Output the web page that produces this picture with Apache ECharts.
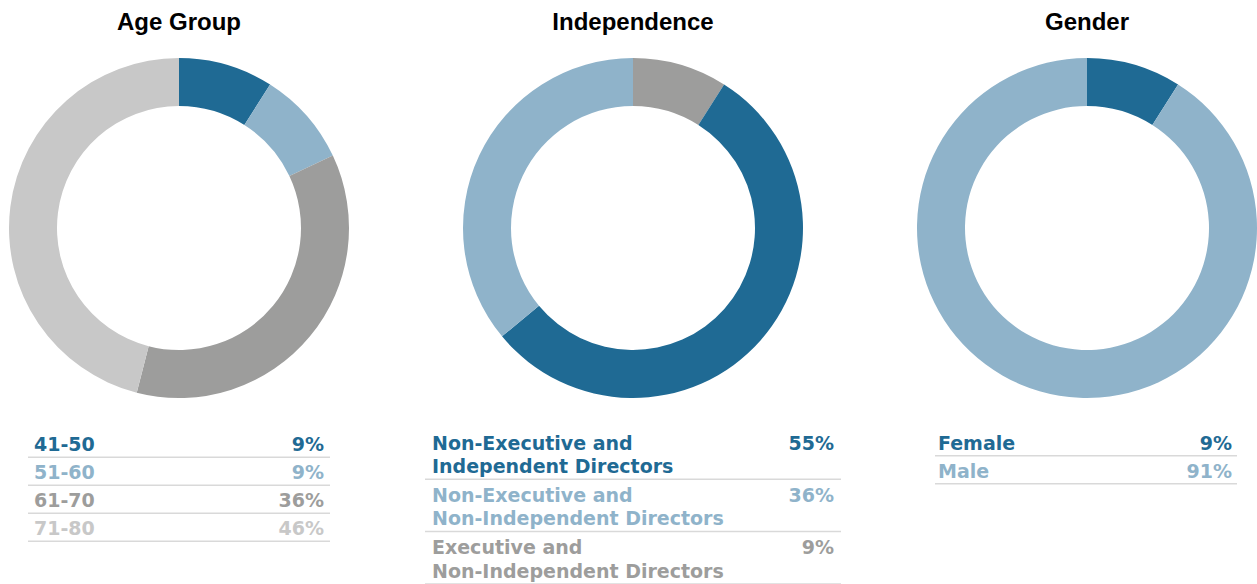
<!DOCTYPE html>
<html>
<head>
<meta charset="utf-8">
<script src="https://cdn.jsdelivr.net/npm/echarts@6/dist/echarts.min.js"></script>
<style>
html,body{margin:0;padding:0;background:#fff;}
#chart{width:1257px;height:584px;}
</style>
</head>
<body>
<div id="chart"></div>
<script>
// ---- data ----
const titles = ['Age Group', 'Independence', 'Gender'];

const ageCategories = ['41-50', '51-60', '61-70', '71-80'];
const ageValues = [9, 9, 36, 46];

// order as drawn clockwise from the top
const indCategories = ['Executive and\nNon-Independent Directors', 'Non-Executive and\nIndependent Directors', 'Non-Executive and\nNon-Independent Directors'];
const indValues = [9, 55, 36];
// order as listed in the table
const indLegendOrder = [1, 2, 0];

const genderCategories = ['Female', 'Male'];
const genderValues = [9, 91];

// ---- styles ----
const C_DARK = '#1f6a94', C_LIGHT = '#8fb3ca', C_GRAY = '#9d9d9c', C_LGRAY = '#c8c8c8';
const ageColors = [C_DARK, C_LIGHT, C_GRAY, C_LGRAY];
const indColors = [C_GRAY, C_DARK, C_LIGHT];
const genderColors = [C_DARK, C_LIGHT];
const FONT = '"Liberation Sans", Arial, sans-serif';
const LFONT = 'bold 19px "DejaVu Sans", sans-serif';

const charts = [
  {cats: ageCategories, vals: ageValues, colors: ageColors, order: [0,1,2,3], cx: 179,
   table: {x0: 28, x1: 330, tx: 34, px: 324, y0: 444, rowH: 28, lineH: 0}},
  {cats: indCategories, vals: indValues, colors: indColors, order: indLegendOrder, cx: 633,
   table: {x0: 425, x1: 841, tx: 432, px: 834, y0: 442.5, rowH: 52.3, lineH: 23.5}},
  {cats: genderCategories, vals: genderValues, colors: genderColors, order: [0,1], cx: 1087,
   table: {x0: 935, x1: 1237, tx: 938, px: 1232, y0: 442.5, rowH: 28, lineH: 0}}
];

const series = [];
const graphics = [];
const titleOpts = [];

charts.forEach((ch, ci) => {
  titleOpts.push({
    text: titles[ci], left: ch.cx, top: 9, textAlign: 'center', padding: 0,
    textStyle: {fontFamily: FONT, fontWeight: 'bold', fontSize: 24, color: '#000'}
  });
  series.push({
    type: 'pie', center: [ch.cx, 228], radius: [122, 170], startAngle: 90, clockwise: true,
    label: {show: false}, labelLine: {show: false}, silent: true, animation: false,
    itemStyle: {borderWidth: 0},
    data: ch.vals.map((v, i) => ({name: ch.cats[i], value: v, itemStyle: {color: ch.colors[i]}}))
  });
  const t = ch.table;
  ch.order.forEach((idx, r) => {
    const yMid = t.y0 + r * t.rowH;
    const lines = ch.cats[idx].split('\n');
    lines.forEach((ln, li) => {
      graphics.push({type: 'text', x: t.tx, y: yMid + li * t.lineH, silent: true,
        style: {text: ln, fill: ch.colors[idx], font: LFONT, textVerticalAlign: 'middle', textAlign: 'left'}});
    });
    graphics.push({type: 'text', x: t.px, y: yMid, silent: true,
      style: {text: ch.vals[idx] + '%', fill: ch.colors[idx], font: LFONT, textVerticalAlign: 'middle', textAlign: 'right'}});
    const sepY = yMid + (lines.length - 1) * t.lineH + 13.3;
    graphics.push({type: 'line', silent: true,
      shape: {x1: t.x0, y1: sepY, x2: t.x1, y2: sepY},
      style: {stroke: '#d9d9d9', lineWidth: 1.5}});
  });
});

const chart = echarts.init(document.getElementById('chart'), null, {renderer: 'svg'});
chart.setOption({
  animation: false,
  title: titleOpts,
  tooltip: {show: false},
  series: series,
  graphic: graphics
});
</script>
</body>
</html>
